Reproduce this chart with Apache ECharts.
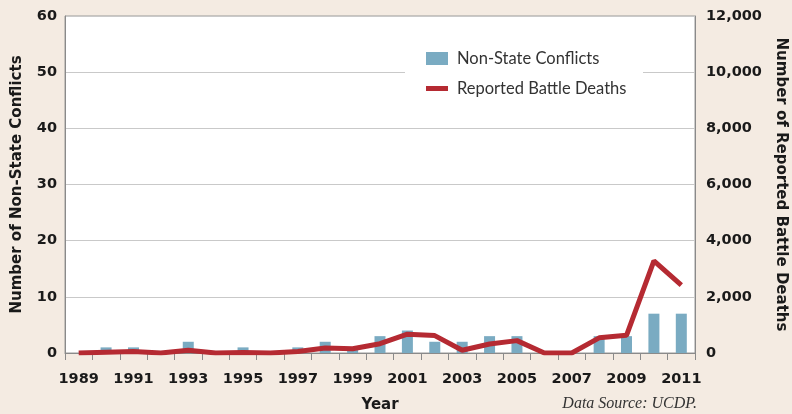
<!DOCTYPE html>
<html>
<head>
<meta charset="utf-8">
<script src="https://cdn.jsdelivr.net/npm/echarts@6/dist/echarts.min.js"></script>
<style>
  html, body { margin: 0; padding: 0; background: #f4ebe2; }
  #chart { width: 792px; height: 414px; }
</style>
</head>
<body>
<div id="chart"></div>
<script>
// years on the x axis
const years = ['1989', '1990', '1991', '1992', '1993', '1994', '1995', '1996',
  '1997', '1998', '1999', '2000', '2001', '2002', '2003', '2004', '2005',
  '2006', '2007', '2008', '2009', '2010', '2011']
// number of non-state conflicts (left axis)
const conflicts = [0, 1, 1, 0, 2, 0, 1, 0, 1, 2, 1, 3, 4, 2, 2, 3, 3, 0, 0, 3, 3, 7, 7]
// reported battle deaths (right axis)
const deaths = [0, 30, 50, 0, 100, 0, 20, 0, 50, 180, 150, 330, 670, 620, 100, 320, 440,
  0, 0, 540, 630, 3280, 2420]

const labelFont = {
  color: '#1a1a1a',
  fontFamily: 'DejaVu Sans, sans-serif',
  fontWeight: 'bold',
  fontSize: 14.5
}
const nameFont = Object.assign({}, labelFont, { fontSize: 15 })
const legendText = {
  color: '#333333',
  fontFamily: 'Lato, Open Sans, sans-serif',
  fontSize: 16.5,
  padding: [0, 0, 0, 4]
}

const chart = echarts.init(document.getElementById('chart'))
chart.setOption({
  backgroundColor: '#f4ebe2',
  animation: false,
  grid: {
    left: 65,
    right: 97,
    top: 16,
    bottom: 61,
    outerBoundsMode: 'none',
    show: true,
    backgroundColor: '#ffffff',
    borderColor: '#9a9a9a',
    borderWidth: 1
  },
  legend: [
    {
      left: 426,
      top: 50,
      padding: 0,
      itemWidth: 22,
      itemHeight: 13,
      textStyle: legendText,
      data: [{ name: 'Non-State Conflicts', icon: 'rect' }]
    },
    {
      left: 426,
      top: 80,
      padding: 0,
      itemWidth: 22,
      itemHeight: 5,
      textStyle: legendText,
      data: [{ name: 'Reported Battle Deaths', icon: 'rect' }]
    }
  ],
  xAxis: {
    type: 'category',
    data: years,
    boundaryGap: true,
    name: 'Year',
    nameLocation: 'middle',
    nameGap: 45,
    nameTextStyle: nameFont,
    axisLine: { lineStyle: { color: '#8a8a8a', width: 1 } },
    axisTick: { show: true, interval: 0, length: 7, lineStyle: { color: '#8a8a8a' } },
    axisLabel: Object.assign({ interval: 1, margin: 19 }, labelFont)
  },
  yAxis: [
    {
      type: 'value',
      min: 0,
      max: 60,
      interval: 10,
      name: 'Number of Non-State Conflicts',
      nameLocation: 'middle',
      nameGap: 40,
      nameTextStyle: nameFont,
      axisLine: { show: true, lineStyle: { color: '#8a8a8a' } },
      axisTick: { show: false },
      axisLabel: Object.assign({ margin: 8 }, labelFont),
      splitLine: { lineStyle: { color: '#c9c9c9', width: 1 } }
    },
    {
      type: 'value',
      min: 0,
      max: 12000,
      interval: 2000,
      position: 'right',
      name: 'Number of Reported Battle Deaths',
      nameLocation: 'middle',
      nameGap: 78,
      nameRotate: -90,
      nameTextStyle: nameFont,
      axisLine: { show: true, lineStyle: { color: '#8a8a8a' } },
      axisTick: { show: false },
      axisLabel: Object.assign({
        margin: 11,
        formatter: v => v.toLocaleString('en-US')
      }, labelFont),
      splitLine: { show: false }
    }
  ],
  series: [
    {
      name: 'Non-State Conflicts',
      type: 'bar',
      yAxisIndex: 0,
      barWidth: 11,
      itemStyle: { color: '#7aabc2' },
      data: conflicts
    },
    {
      name: 'Reported Battle Deaths',
      type: 'line',
      yAxisIndex: 1,
      symbol: 'none',
      lineStyle: { color: '#b52a32', width: 5 },
      itemStyle: { color: '#b52a32' },
      data: deaths
    }
  ],
  graphic: [
    {
      // white patch behind the legend, covering the gridline
      type: 'rect',
      z: 1,
      shape: { x: 405, y: 36, width: 238, height: 68 },
      style: { fill: '#ffffff' }
    },
    {
      type: 'text',
      right: 95,
      top: 396,
      style: {
        text: 'Data Source: UCDP.',
        fill: '#333333',
        font: 'italic 16px "Liberation Serif", serif'
      }
    }
  ]
})
</script>
</body>
</html>
